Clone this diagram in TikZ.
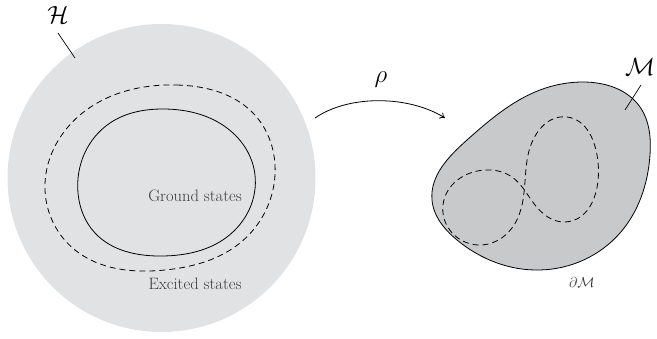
\documentclass[tikz,border=0pt]{standalone}
\usetikzlibrary{arrows.meta,hobby}
\definecolor{outerfill}{HTML}{E1E2E4}
\definecolor{blobfill}{HTML}{C8C9CB}
\definecolor{txt}{HTML}{3A3A3A}
\tikzset{
  curve/.style={line width=0.8pt, black},
  dashcurve/.style={line width=0.8pt, black, dash pattern=on 6pt off 4pt},
  lbl/.style={inner sep=0pt, text=txt},
  lead/.style={line width=0.7pt, black},
  loopy/.style={use Hobby shortcut, closed=true}
}
\begin{document}
\begin{tikzpicture}[x=1pt,y=-1pt]
\useasboundingbox (0,0) rectangle (657,339);
% Hilbert space disk
\fill[outerfill] (161.5,178) circle (154);
% dashed excited-states boundary
\draw[dashcurve, loopy] (177,85) .. (253,113) .. (275,175) .. (240,243) .. (165,270) .. (75,250) .. (45,190) .. (80,115);
% solid ground-states boundary
\draw[curve, loopy] (163,109) .. (233,133) .. (255,175) .. (227,237) .. (163,256) .. (95,233) .. (78,193) .. (110,123);
\node[lbl, font=\fontsize{16.5}{19}\selectfont] (gs) at (195,196) {Ground states};
\node[lbl, font=\fontsize{16.5}{19}\selectfont] (es) at (195,284) {Excited states};
% H label
\node[inner sep=0pt, font=\fontsize{25}{28}\selectfont] (H) at (58,15) {$\mathcal{H}$};
\coordinate (Hs) at (58,33);
\coordinate (He) at (75,58);
\draw[lead] (Hs) -- (He);
% blob
\filldraw[curve, fill=blobfill, loopy] (583,82) .. (640,107) .. (650,155) .. (620,233) .. (540,270) .. (457,240) .. (432,200) .. (467,140) .. (540,90);
% figure eight dashed
\draw[dashcurve, loopy] (522,205) .. (528,155) .. (567,117) .. (598,162) .. (565,222) .. (535,205) .. (512,177) .. (485,170) .. (443,205) .. (478,245) .. (512,228);
% M label
\node[inner sep=0pt, font=\fontsize{28}{30}\selectfont] (M) at (640,67) {$\mathcal{M}$};
\coordinate (Ms) at (641,85);
\coordinate (Me) at (625,110);
\draw[lead] (Ms) -- (Me);
\node[lbl, font=\fontsize{15}{17}\selectfont] (dM) at (582,283) {$\partial\mathcal{M}$};
% arrow rho
\coordinate (As) at (315,118);
\coordinate (Ae) at (445,118);
\draw[line width=0.8pt, -{To[length=5pt,width=7pt]}] (As) .. controls (350,94) and (410,96) .. (Ae);
\node[inner sep=0pt, font=\fontsize{27}{30}\selectfont] (rho) at (381,80) {$\rho$};
\end{tikzpicture}
\end{document}
